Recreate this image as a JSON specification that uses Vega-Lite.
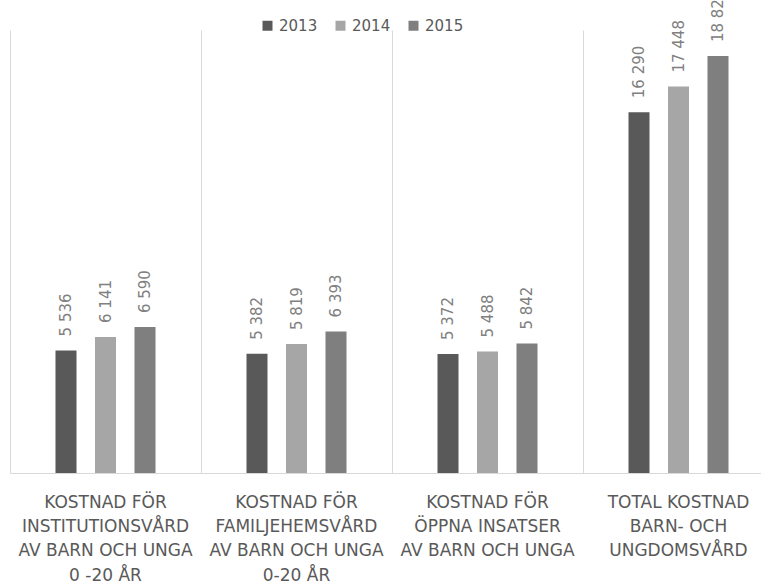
{
  "$schema": "https://vega.github.io/schema/vega-lite/v6.json",
  "width": 751,
  "height": 443,
  "autosize": "none",
  "padding": {"left": 10, "top": 30, "right": 0, "bottom": 111},
  "config": {
    "view": {"stroke": null},
    "font": "DejaVu Sans",
    "locale": {"number": {"decimal": ",", "thousands": " ", "grouping": [3], "currency": ["", " kr"]}}
  },
  "data": {
    "values": [
      {"cat": "KOSTNAD FÖR|INSTITUTIONSVÅRD|AV BARN OCH UNGA|0 -20 ÅR", "year": "2013", "value": 5536},
      {"cat": "KOSTNAD FÖR|INSTITUTIONSVÅRD|AV BARN OCH UNGA|0 -20 ÅR", "year": "2014", "value": 6141},
      {"cat": "KOSTNAD FÖR|INSTITUTIONSVÅRD|AV BARN OCH UNGA|0 -20 ÅR", "year": "2015", "value": 6590},
      {"cat": "KOSTNAD FÖR|FAMILJEHEMSVÅRD|AV BARN OCH UNGA|0-20 ÅR", "year": "2013", "value": 5382},
      {"cat": "KOSTNAD FÖR|FAMILJEHEMSVÅRD|AV BARN OCH UNGA|0-20 ÅR", "year": "2014", "value": 5819},
      {"cat": "KOSTNAD FÖR|FAMILJEHEMSVÅRD|AV BARN OCH UNGA|0-20 ÅR", "year": "2015", "value": 6393},
      {"cat": "KOSTNAD FÖR|ÖPPNA INSATSER|AV BARN OCH UNGA", "year": "2013", "value": 5372},
      {"cat": "KOSTNAD FÖR|ÖPPNA INSATSER|AV BARN OCH UNGA", "year": "2014", "value": 5488},
      {"cat": "KOSTNAD FÖR|ÖPPNA INSATSER|AV BARN OCH UNGA", "year": "2015", "value": 5842},
      {"cat": "TOTAL KOSTNAD|BARN- OCH|UNGDOMSVÅRD", "year": "2013", "value": 16290},
      {"cat": "TOTAL KOSTNAD|BARN- OCH|UNGDOMSVÅRD", "year": "2014", "value": 17448},
      {"cat": "TOTAL KOSTNAD|BARN- OCH|UNGDOMSVÅRD", "year": "2015", "value": 18825}
    ]
  },
  "encoding": {
    "x": {
      "field": "cat",
      "type": "nominal",
      "sort": null,
      "scale": {"paddingInner": 0, "paddingOuter": 0, "range": [0, 764]},
      "axis": {
        "title": null,
        "labelAngle": 0,
        "ticks": false,
        "domainColor": "#d9d9d9",
        "domainWidth": 1,
        "grid": true,
        "gridColor": "#d9d9d9",
        "gridWidth": 1,
        "bandPosition": 0,
        "labelExpr": "split(datum.label, '|')",
        "labelLimit": 0,
        "labelOverlap": false,
        "labelFontSize": 17,
        "labelColor": "#595959",
        "labelLineHeight": 24.4,
        "labelPadding": 21
      }
    },
    "xOffset": {
      "field": "year",
      "type": "nominal",
      "scale": {"range": [6, 185], "paddingInner": 0.468, "paddingOuter": 1}
    },
    "y": {
      "field": "value",
      "type": "quantitative",
      "scale": {"domain": [0, 20000]},
      "axis": null
    }
  },
  "layer": [
    {
      "mark": {"type": "bar"},
      "encoding": {
        "color": {
          "field": "year",
          "type": "nominal",
          "scale": {"range": ["#595959", "#a6a6a6", "#7f7f7f"]},
          "legend": {
            "title": null,
            "orient": "none",
            "direction": "horizontal",
            "legendX": 250,
            "legendY": -12,
            "symbolType": "square",
            "symbolSize": 100,
            "symbolStrokeWidth": 0,
            "labelFontSize": 15,
            "labelColor": "#595959",
            "labelOffset": 4,
            "columnPadding": 15
          }
        }
      }
    },
    {
      "mark": {"type": "text", "angle": -90, "align": "left", "baseline": "middle", "dx": 14, "fontSize": 15, "color": "#808080"},
      "encoding": {
        "text": {"field": "value", "type": "quantitative", "format": ",d"}
      }
    }
  ]
}
